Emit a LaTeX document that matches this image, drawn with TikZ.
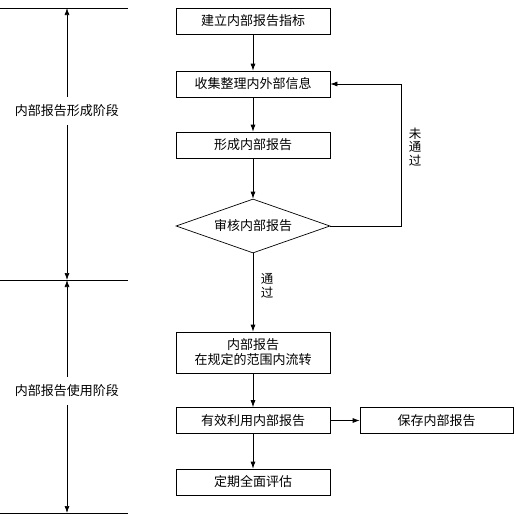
\documentclass[tikz,border=0pt]{standalone}
\usepackage{fontspec}
\newfontfamily\cjk{Noto Sans CJK SC}
\usetikzlibrary{shapes.geometric, arrows.meta}

\tikzset{
  cjktext/.style={font=\cjk\fontsize{13}{15}\selectfont},
  procbox/.style={draw, cjktext, minimum width=154, minimum height=26,
    inner sep=0pt, align=center},
  checkbox/.style={draw, diamond, cjktext, aspect=2.85, minimum width=154,
    minimum height=54, inner sep=0pt},
  phaselabel/.style={cjktext, inner xsep=0pt, inner ysep=8pt},
  flowlabel/.style={cjktext, align=center, inner sep=0pt,
    font=\cjk\fontsize{12.5}{13.5}\selectfont}
}

\begin{document}
\begin{tikzpicture}[x=1pt,y=-1pt,>={Latex[length=7pt,width=5pt]},line width=0.7pt]

\useasboundingbox (0,0) rectangle (516,520);

% ------------------------------------------------------------
% Phase markers on the left
% ------------------------------------------------------------
\foreach \y/\n in {8/top, 280/mid, 513/bot} {
  \coordinate (\n L) at (0,\y);
  \coordinate (\n R) at (128,\y);
  \coordinate (\n M) at (67,\y);
  \draw (\n L) -- (\n R);
}

\node[phaselabel] (phaseA) at (67,111) {内部报告形成阶段};
\node[phaselabel] (phaseB) at (67,391) {内部报告使用阶段};

\draw[->] (phaseA.north) -- (topM);
\draw[->] (phaseA.south) -- (midM);
\draw[->] (phaseB.north) -- (midM);
\draw[->] (phaseB.south) -- (botM);

% ------------------------------------------------------------
% Flow boxes
% ------------------------------------------------------------
\node[procbox] (build)   at (253,21)    {建立内部报告指标};
\node[procbox] (collect) at (253,84)    {收集整理内外部信息};
\node[procbox] (form)    at (253,145)   {形成内部报告};
\node[checkbox] (audit)  at (253,226)   {审核内部报告};
\node[procbox, minimum height=41] (circ) at (253,352.5)
  {内部报告\\在规定的范围内流转};
\node[procbox] (use)     at (253,420.5) {有效利用内部报告};
\node[procbox, minimum width=153] (keep) at (436.5,420.5) {保存内部报告};
\node[procbox] (review)  at (253,482)   {定期全面评估};

% ------------------------------------------------------------
% Connectors
% ------------------------------------------------------------
\draw[->] (build) -- (collect);
\draw[->] (collect) -- (form);
\draw[->] (form) -- (audit);
\draw[->] (audit) -- (circ);
\draw[->] (circ) -- (use);
\draw[->] (use) -- (review);
\draw[->] (use) -- (keep);

% failed check goes back
\coordinate (backA) at (401,226);
\coordinate (backB) at (401,84);
\draw[->] (audit.east) -- (backA) -- (backB) -- (collect.east);

\node[flowlabel] (fail) at (415,147) {未\\通\\过};
\node[flowlabel] (pass) at (267,286) {通\\过};

\end{tikzpicture}
\end{document}
